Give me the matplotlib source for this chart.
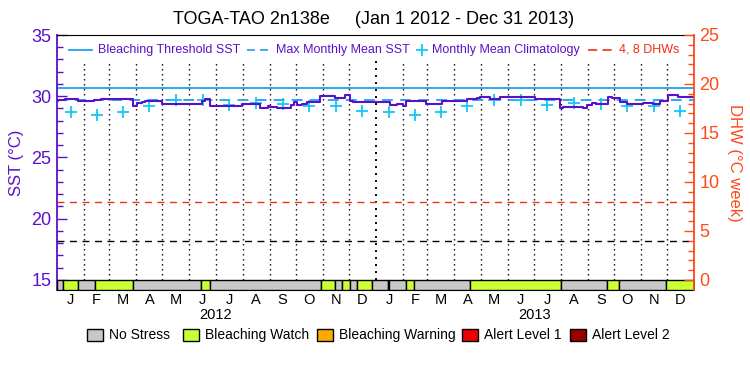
import numpy as np
import matplotlib
matplotlib.use("Agg")
import matplotlib.pyplot as plt
from matplotlib.lines import Line2D
from matplotlib.patches import Rectangle

plt.rcParams["font.family"] = ["Liberation Sans", "DejaVu Sans"]

# ---------------------------------------------------------------------------
# Data
# ---------------------------------------------------------------------------

TITLE = "TOGA-TAO 2n138e     (Jan 1 2012 - Dec 31 2013)"
MONTH_LETTERS = ["J", "F", "M", "A", "M", "J", "J", "A", "S", "O", "N", "D"]
YEARS = [2012, 2013]

# monthly mean climatology (degC), same every year
CLIM = [28.74, 28.49, 28.69, 29.23, 29.67, 29.69,
        29.29, 29.42, 29.37, 29.20, 29.20, 28.82]
MMM = 29.67
THRESHOLD = 30.67
DHW_LEVELS = [4, 8]

# SST step series: day-of-record where each step starts, and its value
SST_DAY = [0, 1.5, 9, 24, 42, 51, 87.5, 91.5, 97, 101, 120, 166, 170, 175.6,
           181, 212, 233, 242.5, 244, 252, 269, 272, 275, 281, 286.5, 302,
           319, 330.5, 336, 340, 363, 382, 390, 397, 401, 424, 441.5, 470,
           481.6, 485, 497, 508, 548.5, 577, 581, 604, 608, 613.6, 619,
           632.7, 636.5, 646, 654, 673, 684, 692, 701.5, 713, 731]
SST_VAL = [29.64, 29.70, 29.78, 29.64, 29.71, 29.78, 29.23, 29.43, 29.53,
           29.58, 29.37, 29.58, 29.78, 29.18, 29.23, 29.33, 29.01, 29.21,
           29.14, 29.01, 29.28, 29.55, 29.28, 29.38, 29.55, 30.02, 29.83,
           30.11, 29.64, 29.55, 29.50, 29.28, 29.38, 29.18, 29.64, 29.38,
           29.64, 29.76, 29.83, 29.92, 29.75, 29.92, 29.75, 29.01, 29.14,
           29.01, 29.28, 29.46, 29.38, 29.97, 29.83, 29.55, 29.38, 29.46,
           29.38, 29.64, 30.11, 29.97]

# stress bar: start day and level (0 no stress, 1 watch)
STRESS_DAY = [0, 7, 24.5, 43.6, 87.6, 165, 176, 302.6, 318.6, 326.7, 336,
              344, 361, 379.5, 381, 400, 410, 473.6, 578.4, 631.5, 645,
              698.5, 731]
STRESS_LVL = [0, 1, 0, 1, 0, 1, 0, 1, 0, 1, 0, 1, 0, 1, 0, 1, 0, 1, 0, 1, 0, 1]

STRESS_NAMES = ["No Stress", "Bleaching Watch", "Bleaching Warning",
                "Alert Level 1", "Alert Level 2"]
STRESS_COLORS = ["#c8c8c8", "#ccff33", "#ffaa00", "#ee0000", "#990000"]

# ---------------------------------------------------------------------------
# Styling
# ---------------------------------------------------------------------------

PURPLE = "#5a10c8"
CYAN = "#1aa3f0"
CROSS = "#10c8f8"
ORANGE = "#ff4a1a"
RED_DASH = "#f03010"

W, H = 750, 375


def px(x, y):
    """pixel coords of the reference -> figure fraction"""
    return x / W, 1 - y / H


fig = plt.figure(figsize=(7.5, 3.75), dpi=100)
x0, y1 = px(57, 35)
x1, y0 = px(694, 290)
ax = fig.add_axes([x0, y0, x1 - x0, y1 - y0])

YLO, YHI = 14.18, 35.0
ax.set_xlim(0, 731)
ax.set_ylim(YLO, YHI)

# month boundaries (days since 2012-01-01)
starts = np.arange("2012-01", "2014-02", dtype="datetime64[M]")
month_start = (starts.astype("datetime64[D]") - np.datetime64("2012-01-01")).astype(float)
month_mid = (month_start[:-1] + month_start[1:]) / 2

# dotted month separators
for d in month_start[1:-1]:
    lw = 1.4 if d == 366 else 1.0
    ax.plot([d, d], [15, 32.9], color="black", lw=lw, ls=(0, (1, 2.6)), zorder=1)

# threshold, MMM
ax.axhline(THRESHOLD, color=CYAN, lw=1.3, zorder=2)
ax.axhline(MMM, color=CYAN, lw=1.3, ls=(0, (6, 4)), zorder=2)

# climatology crosses
ax.plot(month_mid, CLIM * 2, ls="none", marker="+", ms=9, mew=1.3,
        color=CROSS, zorder=3)

# SST
ax.step(SST_DAY, SST_VAL + [SST_VAL[-1]], where="post", color=PURPLE,
        lw=1.5, zorder=4)

# stress bar
for i, lvl in enumerate(STRESS_LVL):
    ax.broken_barh([(STRESS_DAY[i], STRESS_DAY[i + 1] - STRESS_DAY[i])],
                   (YLO, 15 - YLO), facecolors=STRESS_COLORS[lvl],
                   edgecolors="black", linewidth=1.0, zorder=5)

# left axis
ax.set_yticks([15, 20, 25, 30, 35])
ax.set_yticks(np.arange(15, 35), minor=True)
ax.tick_params(axis="y", which="major", direction="in", length=7.5,
               width=1, colors=PURPLE, labelsize=13, pad=4)
ax.tick_params(axis="y", which="minor", direction="in", length=4.5,
               width=1, colors=PURPLE)
ax.set_ylabel("SST (°C)", color=PURPLE, fontsize=12, labelpad=5)

ax.set_xticks(month_mid)
ax.set_xticklabels(MONTH_LETTERS * 2, fontsize=10.5)
ax.tick_params(axis="x", length=0, pad=2.5)

for s in ("top", "bottom"):
    ax.spines[s].set_color("black")
ax.spines["left"].set_color(PURPLE)
ax.spines["left"].set_linewidth(1.3)
ax.spines["right"].set_visible(False)

# right (DHW) axis
ax2 = ax.twinx()
ax2.set_ylim(-1.025, 25)
for lvl, col in zip(DHW_LEVELS, ["black", RED_DASH]):
    ax2.axhline(lvl, color=col, lw=1.0, ls=(0, (5, 4)), zorder=1)
ax2.set_yticks(np.arange(0, 26, 5))
ax2.set_yticks(np.arange(0, 25), minor=True)
ax2.tick_params(axis="y", which="major", direction="in", length=7.5,
                width=1, colors=ORANGE, labelsize=13, pad=4)
ax2.tick_params(axis="y", which="minor", direction="in", length=4.5,
                width=1, colors=ORANGE)
ax2.spines["right"].set_color(ORANGE)
ax2.spines["right"].set_linewidth(1.3)
for s in ("top", "bottom", "left"):
    ax2.spines[s].set_visible(False)
ax2.set_ylabel("DHW (°C week)", color=ORANGE, fontsize=12, rotation=-90,
               labelpad=16)

# title
fig.text(*px(374, 20), TITLE, ha="center", va="center", fontsize=13)

# year labels
for i, yr in enumerate(YEARS):
    xm = 57 + (month_mid[6 + 12 * i] - 15) / 731 * 637
    fig.text(*px(xm, 315), str(yr), ha="center", va="center", fontsize=10.5)

# in-plot legend
ly = 50
fs = 9
dash_sample = (0, (4.8, 3.0))
fig.add_artist(Line2D([69 / W, 92 / W], [1 - ly / H] * 2, color=CYAN, lw=1.3))
fig.text(*px(98, ly), "Bleaching Threshold SST", color=PURPLE, fontsize=fs,
         va="center")
fig.add_artist(Line2D([247 / W, 268 / W], [1 - ly / H] * 2, color=CYAN, lw=1.2,
                      ls=dash_sample))
fig.text(*px(276, ly), "Max Monthly Mean SST", color=PURPLE, fontsize=fs,
         va="center")
fig.add_artist(Line2D([421.5 / W], [1 - ly / H], color=CROSS, marker="+",
                      ms=8, mew=1.3, ls="none"))
fig.text(*px(432, ly), "Monthly Mean Climatology", color=PURPLE, fontsize=fs,
         va="center")
fig.add_artist(Line2D([588 / W, 612 / W], [1 - ly / H] * 2, color=RED_DASH,
                      lw=1.2, ls=(0, (5.5, 3.2))))
fig.text(*px(619, ly), "4, 8 DHWs", color=RED_DASH, fontsize=fs, va="center")

# stress legend
box_x = [87, 183, 317, 462, 570]
for bx, name, col in zip(box_x, STRESS_NAMES, STRESS_COLORS):
    fx, fy = px(bx, 341)
    fig.add_artist(Rectangle((fx, fy), 16 / W, 12 / H, facecolor=col,
                             edgecolor="black", lw=1.0,
                             transform=fig.transFigure))
    fig.text(*px(bx + 22, 335), name, fontsize=10, va="center")

fig.savefig("out.png", dpi=100)
